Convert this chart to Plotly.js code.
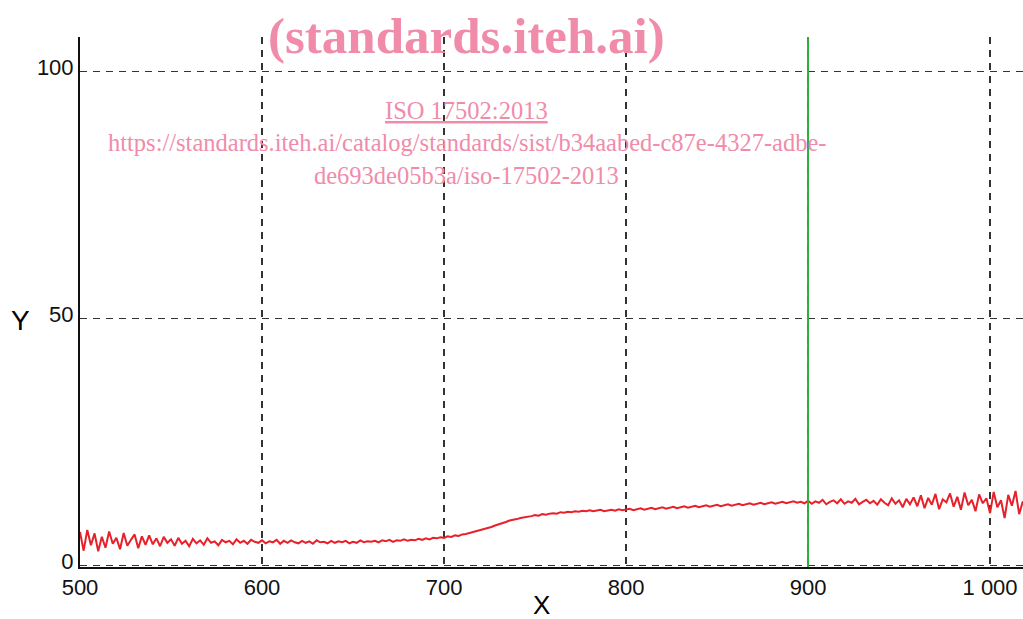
<!DOCTYPE html>
<html>
<head>
<meta charset="utf-8">
<script src="https://cdn.plot.ly/plotly-3.0.1.min.js"></script>
<style>html,body{margin:0;padding:0;background:#fff;}#chart{width:1023px;height:619px;}</style>
</head>
<body>
<div id="chart"></div>
<script>
// x sampled every 2 units from 500 to 1018
const xStart = 500;
const xStep = 2;
const yValues = [
  6.8, 3.0, 7.2, 4.1, 6.5, 2.9, 5.8, 3.6, 6.9, 4.4,
  5.6, 3.3, 6.6, 4.0, 5.2, 6.3, 3.5, 5.9, 4.2, 6.1,
  4.3, 5.5, 3.9, 5.8, 4.6, 5.3, 4.0, 5.6, 4.4, 5.0,
  3.9, 5.4, 4.5, 5.1, 4.2, 5.5, 4.6, 4.9, 4.1, 5.2,
  4.7, 5.0, 4.3, 5.3, 4.6, 5.0, 4.4, 5.2, 4.8, 4.6,
  5.1, 4.5, 4.9, 4.7, 5.2, 4.4, 5.0, 4.6, 5.1, 4.7,
  4.5, 5.0, 4.6, 4.9, 4.4, 5.1, 4.7, 4.8, 4.5, 5.0,
  4.6, 4.9, 4.7, 5.0, 4.5, 4.8, 4.6, 5.1, 4.7, 4.9,
  4.8, 5.0, 4.7, 5.1, 4.9, 5.2, 4.8, 5.1, 5.0, 5.3,
  5.0, 5.2, 5.1, 5.4, 5.2, 5.5, 5.3, 5.6, 5.5, 5.7,
  5.6, 5.9, 5.8, 6.1, 6.0, 6.3, 6.4, 6.6, 6.8, 6.9,
  7.1, 7.3, 7.6, 7.8, 8.1, 8.3, 8.6, 8.8, 9.1, 9.2,
  9.4, 9.6, 9.7, 9.9, 10.0, 10.2, 10.1, 10.4, 10.3, 10.5,
  10.6, 10.5, 10.8, 10.7, 10.9, 10.8, 11.0, 10.9, 11.1, 11.0,
  11.2, 11.0, 11.1, 11.3, 11.0, 11.2, 11.3, 11.1, 11.4, 11.2,
  11.3, 11.5, 11.2, 11.4, 11.6, 11.3, 11.5, 11.7, 11.4, 11.6,
  11.8, 11.5, 11.7, 11.9, 11.6, 11.8, 12.0, 11.7, 11.9, 12.1,
  11.8, 12.0, 12.2, 11.9, 12.1, 12.3, 12.0, 12.2, 12.4, 12.1,
  12.3, 12.5, 12.2, 12.4, 12.6, 12.3, 12.5, 12.7, 12.4, 12.6,
  12.8, 12.5, 12.7, 12.9, 12.6, 12.8, 13.0, 12.7, 12.9, 12.6,
  13.1, 12.5, 13.0, 12.7, 13.3, 12.4, 12.9, 13.2, 12.6, 13.4,
  12.5, 13.0, 12.7, 13.5, 12.4, 12.9, 13.3, 12.6, 13.1, 12.3,
  13.4, 12.7, 12.2, 13.6, 12.5, 13.2, 11.8, 13.5, 12.4, 13.8,
  12.0, 14.2, 11.6, 13.7, 12.3, 14.5, 11.4, 13.4, 12.8, 14.6,
  11.9, 13.9, 11.3, 14.8, 12.2, 13.3, 11.0, 14.4, 12.6, 13.6,
  10.6, 14.9, 11.8, 13.2, 9.6, 14.3, 12.1, 15.1, 10.4, 13.0
];
const xValues = yValues.map((_, i) => xStart + i * xStep);

const markerX = 900;
const xTickVals = [500, 600, 700, 800, 900, 1000];
const xTickText = ['500', '600', '700', '800', '900', '1 000'];
const yTickVals = [0, 50, 100];
const yTickText = ['0', '50', '100'];
const xRange = [500, 1018.1];
const yRange = [-0.3, 107];

const traces = [
  {
    x: xValues, y: yValues,
    mode: 'lines', line: {color: '#e8202a', width: 2},
    showlegend: false
  },
  {
    x: [markerX, markerX], y: yRange,
    mode: 'lines', line: {color: '#2fae3c', width: 2},
    hoverinfo: 'skip', showlegend: false
  }
];

const pink = 'rgb(240,140,170)';
const serif = 'Liberation Serif, Times New Roman, serif';
const layout = {
  width: 1023, height: 619,
  margin: {l: 80, r: 0, t: 37, b: 52},
  paper_bgcolor: '#fff', plot_bgcolor: '#fff',
  font: {family: 'Liberation Sans, Arial, sans-serif', color: '#000'},
  xaxis: {
    range: xRange, tickvals: xTickVals, ticktext: xTickText,
    showline: true, linecolor: '#111', linewidth: 2,
    showgrid: true, gridcolor: '#333', gridwidth: 1.4, griddash: '7px,6px',
    zeroline: false, ticks: '', tickfont: {size: 22, color: '#111'}
  },
  yaxis: {
    range: yRange, tickvals: yTickVals, ticktext: yTickText,
    showline: true, linecolor: '#111', linewidth: 2,
    showgrid: true, gridcolor: '#333', gridwidth: 1.4, griddash: '7px,6px',
    zeroline: false, ticks: '', tickfont: {size: 22, color: '#111'},
    ticklabelshift: -4
  },
  annotations: [
    {text: 'Y', xref: 'paper', yref: 'paper', x: -0.063, y: 0.465, xanchor: 'center', yanchor: 'middle',
     showarrow: false, font: {size: 28, color: '#000'}},
    {text: 'X', xref: 'paper', yref: 'paper', x: 0.489, y: -0.072, xanchor: 'center', yanchor: 'middle',
     showarrow: false, font: {size: 26, color: '#000'}},
    {text: '<b>(standards.iteh.ai)</b>', xref: 'paper', yref: 'paper', x: 0.41, y: 1.002, xanchor: 'center', yanchor: 'middle',
     showarrow: false, font: {family: serif, size: 51, color: pink}},
    {text: '<u>ISO 17502:2013</u>', xref: 'paper', yref: 'paper', x: 0.41, y: 0.862, xanchor: 'center', yanchor: 'middle',
     showarrow: false, font: {family: serif, size: 24.5, color: pink}},
    {text: 'https://standards.iteh.ai/catalog/standards/sist/b34aabed-c87e-4327-adbe-', xref: 'paper', yref: 'paper', x: 0.41, y: 0.8, xanchor: 'center', yanchor: 'middle',
     showarrow: false, font: {family: serif, size: 24.5, color: pink}},
    {text: 'de693de05b3a/iso-17502-2013', xref: 'paper', yref: 'paper', x: 0.41, y: 0.738, xanchor: 'center', yanchor: 'middle',
     showarrow: false, font: {family: serif, size: 24.5, color: pink}}
  ]
};

Plotly.newPlot('chart', traces, layout, {displayModeBar: false, staticPlot: true});
</script>
</body>
</html>
